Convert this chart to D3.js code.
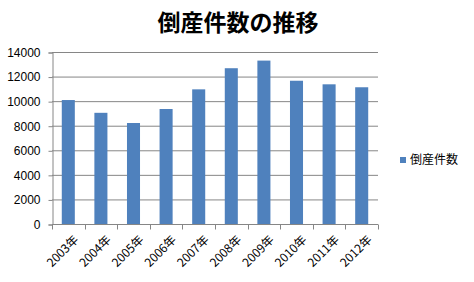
<!DOCTYPE html>
<html>
<head>
<meta charset="utf-8">
<script src="https://cdn.jsdelivr.net/npm/d3@7"></script>
<style>
  body { margin: 0; background: #fff; }
  svg { display: block; }
</style>
</head>
<body>
<div id="chart"></div>
<script>
// Data
const YEARS = ["2003年", "2004年", "2005年", "2006年", "2007年", "2008年", "2009年", "2010年", "2011年", "2012年"];
const COUNTS = [10090, 9050, 8220, 9360, 10960, 12680, 13300, 11660, 11370, 11130];
const Y_TICKS = [0, 2000, 4000, 6000, 8000, 10000, 12000, 14000];
const SERIES_NAME = "倒産件数";
const TITLE = "倒産件数の推移";

// Constants
const FRAME_WIDTH = 474;
const FRAME_HEIGHT = 282;
const MARGINS = {left: 52, right: 96, top: 52, bottom: 58};
const VIS_WIDTH = FRAME_WIDTH - MARGINS.left - MARGINS.right;
const VIS_HEIGHT = FRAME_HEIGHT - MARGINS.top - MARGINS.bottom;
const BAR_COLOR = "#4f81bd";
const GRID_COLOR = "#868686";
const FONT = "'Noto Sans CJK JP', 'Liberation Sans', sans-serif";
const NUM_FONT = "'Liberation Sans', Arial, sans-serif";

const FRAME = d3.select("#chart")
                .append("svg")
                  .attr("width", FRAME_WIDTH)
                  .attr("height", FRAME_HEIGHT);

const X_SCALE = d3.scaleBand()
                  .domain(YEARS)
                  .range([0, VIS_WIDTH])
                  .paddingInner(0.6)
                  .paddingOuter(0.3);

const Y_SCALE = d3.scaleLinear()
                  .domain([0, 14000])
                  .range([VIS_HEIGHT, 0]);

const plot = FRAME.append("g")
                  .attr("transform", "translate(" + MARGINS.left + "," + MARGINS.top + ")");

// Gridlines
plot.selectAll(".grid")
    .data(Y_TICKS.slice(1))
    .enter()
    .append("line")
      .attr("x1", 0)
      .attr("x2", VIS_WIDTH)
      .attr("y1", d => Y_SCALE(d) + 0.5)
      .attr("y2", d => Y_SCALE(d) + 0.5)
      .attr("stroke", GRID_COLOR)
      .attr("stroke-width", 1);

// Y axis
const yAxis = plot.append("g")
    .attr("transform", "translate(0.5,0.5)")
    .call(d3.axisLeft(Y_SCALE).tickValues(Y_TICKS).tickFormat(d3.format("d")).tickSize(4).tickPadding(8));
yAxis.selectAll("path, line").attr("stroke", GRID_COLOR);
yAxis.selectAll("text")
     .attr("font-family", NUM_FONT)
     .attr("font-size", "12px")
     .attr("fill", "#000");

// X axis with ticks at category boundaries
const step = X_SCALE.step();
const xAxis = plot.append("g")
    .attr("transform", "translate(0," + (VIS_HEIGHT + 0.5) + ")");
xAxis.append("line")
     .attr("x1", 0).attr("x2", VIS_WIDTH)
     .attr("y1", 0).attr("y2", 0)
     .attr("stroke", GRID_COLOR);
xAxis.selectAll(".xtick")
     .data(d3.range(YEARS.length + 1))
     .enter()
     .append("line")
       .attr("x1", i => Math.round(i * step) + 0.5)
       .attr("x2", i => Math.round(i * step) + 0.5)
       .attr("y1", 0)
       .attr("y2", 5)
       .attr("stroke", GRID_COLOR);
xAxis.selectAll(".xlabel")
     .data(YEARS)
     .enter()
     .append("text")
       .attr("transform", d => "translate(" + (X_SCALE(d) + X_SCALE.bandwidth() / 2 + 5) + ",10) rotate(-45)")
       .attr("text-anchor", "end")
       .attr("dy", "0.7em")
       .attr("font-family", FONT)
       .attr("font-size", "12px")
       .attr("fill", "#000")
       .text(d => d);

// Bars
plot.selectAll(".bar")
    .data(COUNTS)
    .enter()
    .append("rect")
      .attr("x", (d, i) => X_SCALE(YEARS[i]))
      .attr("y", d => Y_SCALE(d))
      .attr("width", X_SCALE.bandwidth())
      .attr("height", d => VIS_HEIGHT - Y_SCALE(d))
      .attr("fill", BAR_COLOR);

// Title
FRAME.append("text")
     .attr("x", 238)
     .attr("y", 31)
     .attr("text-anchor", "middle")
     .attr("font-family", FONT)
     .attr("font-weight", "bold")
     .attr("font-size", "23px")
     .attr("fill", "#000")
     .text(TITLE);

// Legend
FRAME.append("rect")
     .attr("x", 400)
     .attr("y", 157)
     .attr("width", 6)
     .attr("height", 6)
     .attr("fill", BAR_COLOR);
FRAME.append("text")
     .attr("x", 410)
     .attr("y", 160)
     .attr("dy", "0.35em")
     .attr("font-family", FONT)
     .attr("font-size", "12px")
     .attr("fill", "#000")
     .text(SERIES_NAME);
</script>
</body>
</html>
